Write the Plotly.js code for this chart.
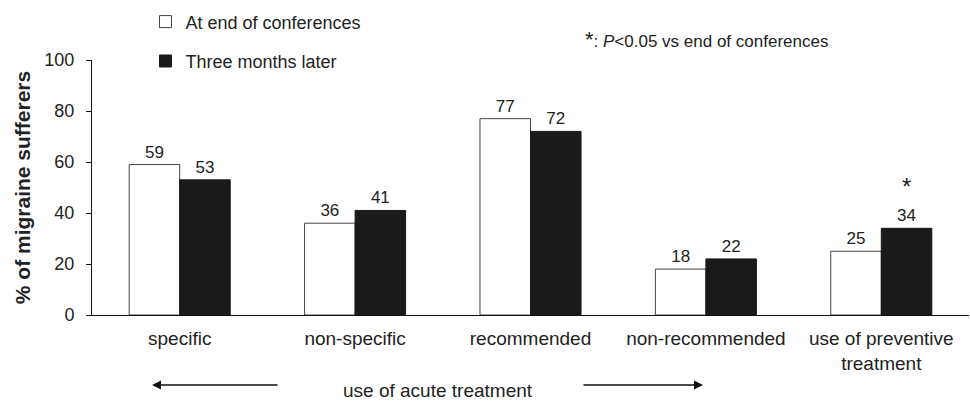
<!DOCTYPE html>
<html>
<head>
<meta charset="utf-8">
<script src="https://cdn.plot.ly/plotly-3.0.1.min.js"></script>
<style>html,body{margin:0;padding:0;background:#fff;}#chart{width:970px;height:402px;}</style>
</head>
<body>
<div id="chart"></div>
<script>
const categories = ['specific', 'non-specific', 'recommended', 'non-recommended', 'use of preventive<br>treatment'];
const endOfConferences = [59, 36, 77, 18, 25];
const threeMonthsLater = [53, 41, 72, 22, 34];
const seriesNames = ['At end of conferences', 'Three months later'];
const yTicks = [0, 20, 40, 60, 80, 100];
const significantIndex = [4];
const yTitle = '% of migraine sufferers';
const noteText = '<span style="font-size:22px">*</span>: <i>P</i>&lt;0.05 vs end of conferences';
const bottomText = 'use of acute treatment';

const FONT = 'Liberation Sans, Arial, Helvetica, sans-serif';
const TXT = '#222';

const traces = [
  {
    type: 'bar', name: seriesNames[0], x: categories, y: endOfConferences,
    text: endOfConferences.map(String), textposition: 'outside', cliponaxis: false,
    textfont: {family: FONT, size: 17, color: TXT},
    marker: {color: '#ffffff', line: {color: '#444', width: 1}},
    legendgroup: 'a', hoverinfo: 'skip'
  },
  {
    type: 'bar', name: seriesNames[1], x: categories, y: threeMonthsLater,
    text: threeMonthsLater.map(String), textposition: 'outside', cliponaxis: false,
    textfont: {family: FONT, size: 17, color: TXT},
    marker: {color: '#1a1a1a', line: {color: '#1a1a1a', width: 1}},
    legendgroup: 'b', hoverinfo: 'skip'
  }
];

const annotations = [
  {xref: 'paper', yref: 'paper', x: 0.56, y: 1.08, xanchor: 'left', yanchor: 'middle',
   text: noteText, showarrow: false, font: {family: FONT, size: 17, color: TXT}},
  {xref: 'paper', yref: 'paper', x: 0.394, y: -0.296, xanchor: 'center', yanchor: 'middle',
   text: bottomText, showarrow: false, font: {family: FONT, size: 19, color: TXT}},
  {xref: 'paper', yref: 'paper', x: 0.0684, y: -0.2745, ax: 127, ay: 0, axref: 'pixel', ayref: 'pixel',
   text: '', showarrow: true, arrowhead: 2, arrowsize: 1.2, arrowwidth: 1.5, arrowcolor: '#111'},
  {xref: 'paper', yref: 'paper', x: 0.6967, y: -0.2745, ax: -121, ay: 0, axref: 'pixel', ayref: 'pixel',
   text: '', showarrow: true, arrowhead: 2, arrowsize: 1.2, arrowwidth: 1.5, arrowcolor: '#111'}
];
significantIndex.forEach(i => {
  annotations.push({xref: 'x', yref: 'y', x: categories[i], y: threeMonthsLater[i],
    xshift: 25, yshift: 42, text: '*', showarrow: false,
    font: {family: FONT, size: 24, color: TXT}});
});

const layout = {
  width: 970, height: 402,
  margin: {l: 92, r: 1, t: 60, b: 87},
  paper_bgcolor: '#fff', plot_bgcolor: '#fff',
  font: {family: FONT, size: 17, color: TXT},
  barmode: 'group', bargap: 0.424, bargroupgap: 0,
  showlegend: true,
  legend: {x: 0.061, y: 1.222, xanchor: 'left', yanchor: 'top', orientation: 'v',
    traceorder: 'grouped', tracegroupgap: 13, bgcolor: 'rgba(0,0,0,0)',
    font: {family: FONT, size: 18, color: TXT}},
  xaxis: {showline: true, linecolor: '#111', linewidth: 1, ticks: '', showgrid: false,
    ticklabelstandoff: 6,
    tickfont: {family: FONT, size: 19, color: TXT}, fixedrange: true},
  yaxis: {range: [0, 100], tickvals: yTicks, showline: true, linecolor: '#111', linewidth: 1,
    ticks: 'outside', ticklen: 5, tickcolor: '#111', showgrid: false, zeroline: false,
    ticklabelstandoff: 8,
    tickfont: {family: FONT, size: 18, color: TXT},
    title: {text: '<b>' + yTitle + '</b>', font: {family: FONT, size: 21, color: TXT}, standoff: 8}},
  annotations: annotations
};

Plotly.newPlot('chart', traces, layout, {staticPlot: true, displayModeBar: false});
</script>
</body>
</html>
